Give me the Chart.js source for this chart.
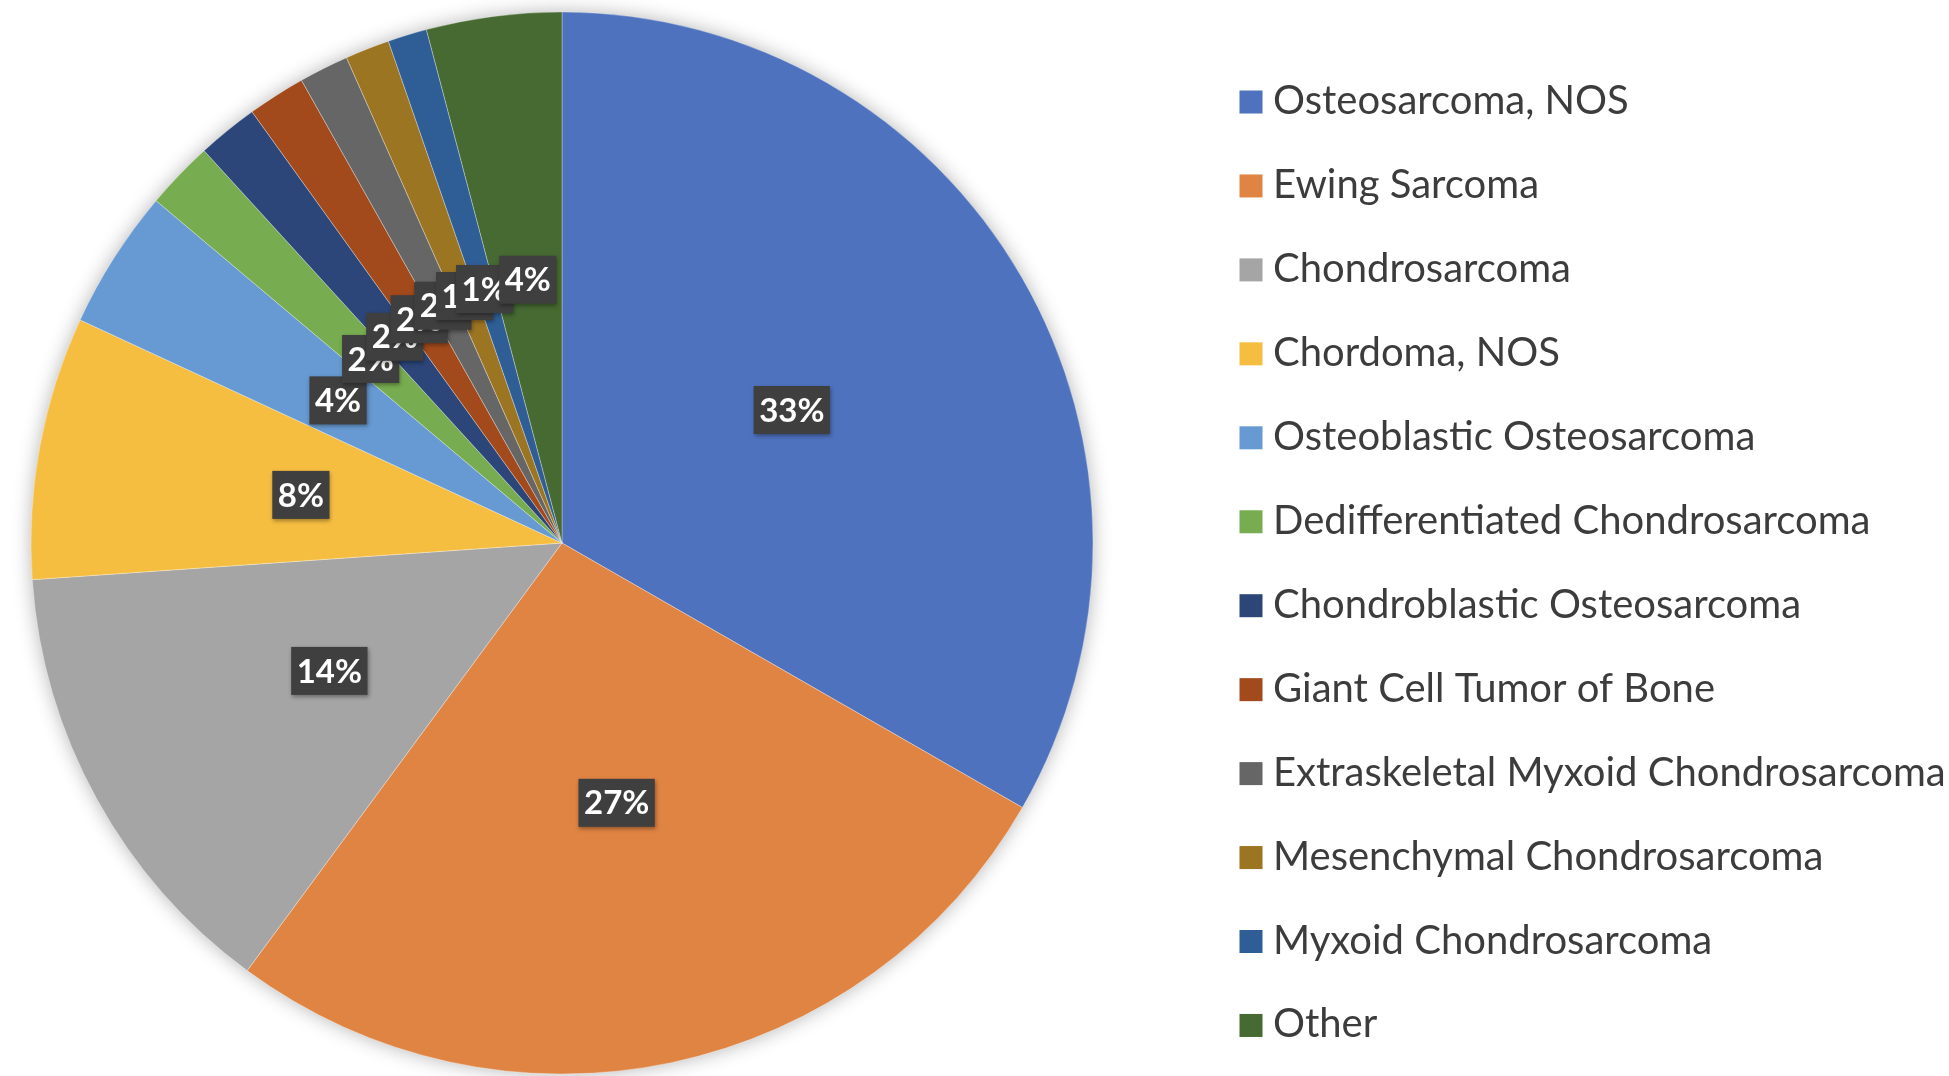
<!DOCTYPE html>
<html><head><meta charset="utf-8">
<script src="https://cdn.jsdelivr.net/npm/chart.js@4.4.0/dist/chart.umd.min.js"></script>
<style>html,body{margin:0;padding:0;background:#fff;overflow:hidden}#wrap{position:relative;width:1949px;height:1076px}</style>
</head><body><div id="wrap"><canvas id="c" width="1949" height="1076"></canvas></div>
<script>
const categories = [
  "Osteosarcoma, NOS",
  "Ewing Sarcoma",
  "Chondrosarcoma",
  "Chordoma, NOS",
  "Osteoblastic Osteosarcoma",
  "Dedifferentiated Chondrosarcoma",
  "Chondroblastic Osteosarcoma",
  "Giant Cell Tumor of Bone",
  "Extraskeletal Myxoid Chondrosarcoma",
  "Mesenchymal Chondrosarcoma",
  "Myxoid Chondrosarcoma",
  "Other"
];
const values = [33.3, 26.8, 13.8, 8.0, 4.25, 2.08, 1.85, 1.76, 1.51, 1.35, 1.19, 4.11];
const colors = ["#4E72BE","#E08443","#A5A5A5","#F6BE41","#679AD2","#77AD50","#2C4679","#A24A1C","#666666","#9C7523","#2F5E97","#466A31"];

const shadowPlugin = {
  id: 'pieShadow',
  beforeDatasetsDraw(chart) {
    const arc = chart.getDatasetMeta(0).data[0];
    if (!arc) return;
    const ctx = chart.ctx;
    ctx.save();
    ctx.shadowColor = 'rgba(0,0,0,0.32)';
    ctx.shadowBlur = 20;
    ctx.fillStyle = '#ffffff';
    ctx.beginPath();
    ctx.arc(arc.x, arc.y, arc.outerRadius - 1, 0, Math.PI * 2);
    ctx.fill();
    ctx.restore();
  }
};

const labelPlugin = {
  id: 'pctLabels',
  afterDatasetsDraw(chart) {
    const ctx = chart.ctx;
    const meta = chart.getDatasetMeta(0);
    const total = values.reduce((a, b) => a + b, 0);
    ctx.save();
    ctx.font = 'bold 33px Lato';
    ctx.textAlign = 'center';
    ctx.textBaseline = 'middle';
    meta.data.forEach((arc, i) => {
      const p = arc.tooltipPosition();
      const txt = Math.round(values[i] / total * 100) + '%';
      const w = ctx.measureText(txt).width + 11;
      const h = 48;
      ctx.shadowColor = 'rgba(0,0,0,0.35)';
      ctx.shadowBlur = 4;
      ctx.shadowOffsetX = 1;
      ctx.shadowOffsetY = 2;
      ctx.fillStyle = '#3F3F3F';
      ctx.fillRect(p.x - w / 2, p.y - h / 2, w, h);
      ctx.shadowColor = 'transparent';
      ctx.shadowBlur = 0;
      ctx.shadowOffsetX = 0;
      ctx.shadowOffsetY = 0;
      ctx.fillStyle = '#ffffff';
      ctx.fillText(txt, p.x, p.y + 1);
    });
    ctx.restore();
  }
};

const legendPlugin = {
  id: 'sideLegend',
  afterDraw(chart) {
    const ctx = chart.ctx;
    ctx.save();
    ctx.font = '40px Lato';
    ctx.textAlign = 'left';
    ctx.textBaseline = 'alphabetic';
    categories.forEach((c, i) => {
      const cy = 102 + i * 83.95;
      ctx.fillStyle = colors[i];
      ctx.fillRect(1239.5, cy - 11.5, 23, 23);
      ctx.fillStyle = '#3C3C3C';
      ctx.fillText(c, 1273, cy + 12);
    });
    ctx.restore();
  }
};

new Chart(document.getElementById('c'), {
  type: 'pie',
  data: {
    labels: categories,
    datasets: [{
      data: values,
      backgroundColor: colors,
      borderWidth: 1,
      borderColor: 'rgba(255,255,255,0.3)',
      radius: 531
    }]
  },
  options: {
    responsive: false,
    animation: false,
    devicePixelRatio: 1,
    layout: { padding: { left: 0, right: 825, top: 10, bottom: 0 } },
    plugins: {
      legend: { display: false },
      tooltip: { enabled: false }
    }
  },
  plugins: [shadowPlugin, labelPlugin, legendPlugin]
});
</script>
</body></html>
